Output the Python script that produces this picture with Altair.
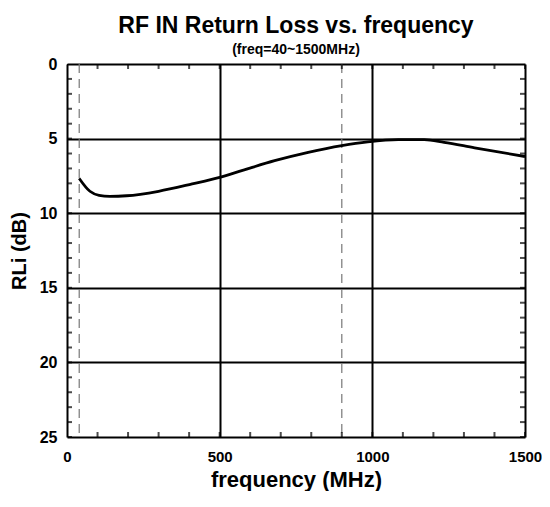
import altair as alt
import pandas as pd

freq = [40, 75, 105, 140, 195, 300, 410, 500, 575, 680, 790, 900, 985, 1085, 1170, 1235, 1335, 1500]
rl = [7.67, 8.53, 8.8, 8.87, 8.83, 8.53, 8.04, 7.6, 7.13, 6.48, 5.92, 5.47, 5.22, 5.07, 5.07, 5.25, 5.62, 6.2]
marker_freq = [40, 900]
x_major = [0, 500, 1000, 1500]
y_major = [0, 5, 10, 15, 20, 25]
x_minor = list(range(0, 1501, 100))
y_minor = list(range(0, 26, 1))
x_edges = [0, 1500]
y_edges = [0, 25]

FONT = "Liberation Sans"
W, H = 458, 373

df = pd.DataFrame({"freq": freq, "rl": rl})
dm = pd.DataFrame({"f": marker_freq})
dxm = pd.DataFrame({"x": x_minor})
dym = pd.DataFrame({"y": y_minor})

xs = alt.Scale(domain=[0, 1500], nice=False, zero=False)
ys = alt.Scale(domain=[0, 25], reverse=True, nice=False, zero=False)

common = dict(labelFont=FONT, labelFontWeight="bold", labelColor="black",
              titleFont=FONT, titleFontWeight="bold", titleColor="black")

main_x = alt.Axis(values=x_major, grid=True, gridColor="black", gridWidth=2, gridOpacity=1,
                  ticks=False, tickSize=0, domain=False, labelPadding=12, labelFontSize=15,
                  labelFlush=False, labelOverlap=False, title="frequency (MHz)",
                  titleFontSize=22, titlePadding=5, format="d", **common)
main_y = alt.Axis(values=y_major, grid=True, gridColor="black", gridWidth=2, gridOpacity=1,
                  ticks=False, tickSize=0, domain=False, labelPadding=10, labelFontSize=16,
                  labelOverlap=False, title="RLi (dB)", titleFontSize=20, titlePadding=10,
                  format="d", **common)

rules = alt.Chart(dm).mark_rule(color="#777777", strokeDash=[9, 6], strokeWidth=1.2).encode(
    x=alt.X("f:Q", scale=xs, axis=main_x)
)

line = alt.Chart(df).mark_line(color="black", strokeWidth=2.8, interpolate="monotone").encode(
    x=alt.X("freq:Q", scale=xs, axis=main_x),
    y=alt.Y("rl:Q", scale=ys, axis=main_y),
)

minor_layers = []
for e in y_edges:
    minor_layers.append(
        alt.Chart(dxm).mark_tick(orient="vertical", color="black", size=10, thickness=2, clip=True).encode(
            x=alt.X("x:Q", scale=xs, axis=main_x),
            y=alt.YDatum(e, scale=ys, axis=main_y),
        )
    )
for e in x_edges:
    minor_layers.append(
        alt.Chart(dym).mark_tick(orient="horizontal", color="black", size=10, thickness=2, clip=True).encode(
            x=alt.XDatum(e, scale=xs, axis=main_x),
            y=alt.Y("y:Q", scale=ys, axis=main_y),
        )
    )

chart = alt.layer(rules, line, *minor_layers).properties(
    width=W, height=H,
    autosize=alt.AutoSizeParams(type="none"),
    padding={"left": 59, "top": 56, "right": 17, "bottom": 54},
    title=alt.TitleParams(
        text="RF IN Return Loss vs. frequency",
        subtitle="(freq=40~1500MHz)",
        font=FONT, fontSize=23, fontWeight="bold", color="black",
        subtitleFont=FONT, subtitleFontSize=14, subtitleFontWeight="bold",
        subtitleColor="black", anchor="middle", offset=-1, subtitlePadding=5,
    ),
).configure_view(stroke="black", strokeWidth=3).configure(background="white")

chart.save("out.html", embed_options={"renderer": "svg", "actions": False})
